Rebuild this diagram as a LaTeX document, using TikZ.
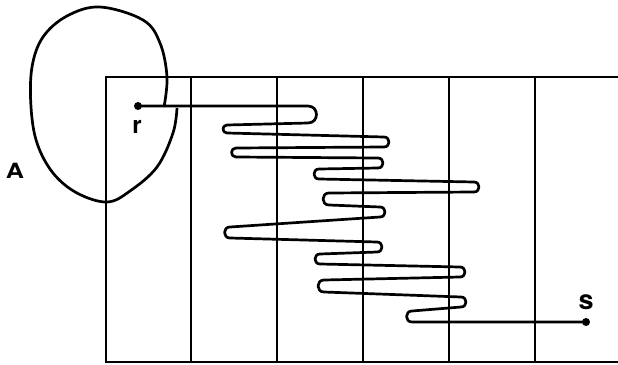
\documentclass[tikz,border=0pt]{standalone}
\usepackage{fontspec}
\setmainfont{TeX Gyre Heros}
\begin{document}
\begin{tikzpicture}[x=1pt,y=-1pt,
  ink/.style={line width=2.7pt,black},
  lbl/.style={inner sep=0pt,font=\bfseries\fontsize{24}{24}\selectfont},
  dotmark/.style={circle,fill=black,inner sep=0pt,minimum size=8pt},
  rt/.style={out=0,in=0,looseness=1.7},
  lt/.style={out=180,in=180,looseness=1.7}]
\useasboundingbox (0,0) rectangle (618,364);
% frame
\draw[ink,line join=miter] (618,77) -- (106,77) -- (106,362) -- (618,362);
\foreach \xx in {191,277,363,449,535}
  \draw[ink] (\xx,77) -- (\xx,362);
% region A
\draw[ink] plot[smooth,tension=0.6] coordinates {(177,108) (173,133) (157,167) (130,191) (107,202) (77,193) (53,173) (37,143) (31,107) (32,67) (43,37) (67,16) (100,7) (143,20) (160,43) (167,77) (164,107)};
% points
\node[dotmark] (rdot) at (138,106) {};
\node[dotmark] (sdot) at (586,322) {};
\node[lbl] (rlab) at (137,127) {r};
\node[lbl,font=\bfseries\fontsize{27}{27}\selectfont] (slab) at (586,302) {s};
\node[lbl,font=\bfseries\fontsize{21}{21}\selectfont] (Alab) at (15,171) {\scalebox{1.2}[1]{A}};
% serpentine path from r to s
\draw[ink,line join=round] (rdot.center) -- (308,106) to[rt] (308,123)
  -- (227,125) to[lt] (227,133)
  -- (384,137) to[rt] (384,147)
  -- (236,148) to[lt] (236,157)
  -- (378,158) to[rt] (378,168)
  -- (319,169) to[lt] (319,179)
  -- (474,182) to[rt] (474,192)
  -- (329,193) to[lt] (329,205)
  -- (380,207) to[rt] (380,217)
  -- (230,227) to[lt] (230,238)
  -- (377,242) to[rt] (377,252)
  -- (320,254) to[lt] (320,264)
  -- (460,267) to[rt] (460,277)
  -- (324,280) to[lt] (324,292)
  -- (461,297) to[rt] (461,307)
  -- (412,311) to[lt] (412,322)
  -- (sdot.center);
\end{tikzpicture}
\end{document}
